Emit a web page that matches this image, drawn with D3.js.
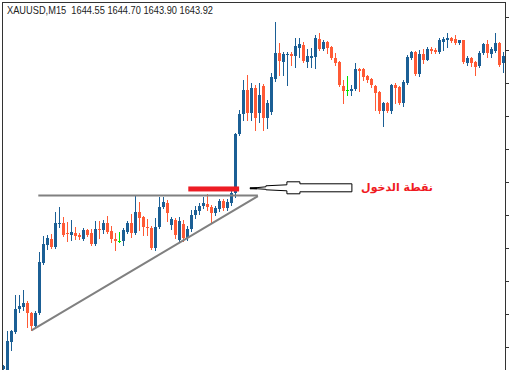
<!DOCTYPE html>
<html>
<head>
<meta charset="utf-8">
<script src="https://cdn.jsdelivr.net/npm/d3@7"></script>
<style>
  html, body { margin: 0; padding: 0; background: #fff; }
  svg { display: block; }
</style>
</head>
<body>
<svg id="chart" width="509" height="370"></svg>
<script>
// XAUUSD M15 candles, left to right
var opens = [1634.32,1634.23,1635.14,1635.44,1636.14,1636.20,1636.32,1636.02,1635.62,1636.02,
  1637.53,1638.08,1638.26,1638.02,1638.71,1638.74,1638.44,1638.38,1638.44,1638.38,
  1638.26,1638.53,1638.44,1638.11,1638.56,1638.53,1638.74,1638.50,1638.26,1638.20,
  1638.20,1638.47,1638.74,1638.44,1639.08,1638.92,1638.62,1638.59,1637.98,1638.62,
  1639.23,1639.35,1638.68,1638.83,1638.23,1638.71,1638.29,1638.56,1638.98,1639.11,
  1639.26,1639.32,1639.23,1639.05,1639.17,1639.41,1639.20,1639.35,1639.65,1641.44,
  1642.05,1642.77,1642.08,1642.83,1642.08,1642.89,1641.92,1642.11,1643.11,1643.89,
  1643.62,1643.83,1643.86,1643.80,1644.05,1644.14,1643.62,1643.74,1643.77,1644.32,
  1644.02,1644.23,1644.08,1643.74,1643.62,1642.89,1642.77,1642.74,1642.80,1643.41,
  1643.41,1643.20,1643.11,1642.89,1642.71,1642.14,1642.38,1642.14,1642.92,1642.86,
  1642.38,1642.98,1643.74,1643.92,1643.26,1643.86,1643.68,1644.02,1643.98,1643.92,
  1644.23,1644.29,1644.35,1644.32,1644.20,1644.29,1643.59,1643.74,1643.62,1643.50,
  1643.89,1644.17,1643.86,1643.95,1644.20,1643.59];
var highs = [1634.44,1635.47,1635.50,1636.56,1636.56,1636.71,1636.38,1636.05,1636.08,1637.86,
  1638.35,1638.38,1638.41,1639.08,1639.23,1638.92,1638.77,1638.83,1638.62,1638.44,
  1638.59,1638.56,1638.56,1638.80,1638.80,1638.83,1638.95,1638.65,1638.44,1638.47,
  1638.59,1638.80,1639.02,1639.59,1639.38,1638.95,1638.86,1638.65,1638.89,1639.53,
  1639.53,1639.44,1638.92,1638.89,1638.92,1638.83,1638.65,1639.14,1639.26,1639.35,
  1639.53,1639.62,1639.29,1639.26,1639.47,1639.47,1639.47,1639.74,1641.47,1642.17,
  1643.08,1643.23,1642.98,1642.92,1642.98,1642.95,1642.47,1643.29,1644.83,1644.20,
  1643.92,1643.92,1643.92,1644.35,1644.35,1644.23,1644.02,1644.05,1644.44,1644.50,
  1644.29,1644.26,1644.11,1643.89,1643.65,1643.08,1643.20,1642.92,1643.59,1643.44,
  1643.44,1643.23,1643.14,1642.92,1642.74,1642.41,1642.41,1642.95,1642.98,1642.89,
  1643.08,1643.83,1643.95,1643.95,1643.98,1644.02,1644.08,1644.08,1644.05,1644.35,
  1644.38,1644.50,1644.38,1644.44,1644.29,1644.29,1643.80,1643.77,1643.65,1643.95,
  1644.20,1644.29,1644.08,1644.50,1644.23,1643.92];
var lows = [1634.29,1634.23,1634.92,1635.41,1636.05,1636.11,1635.59,1635.50,1635.59,1635.98,
  1637.50,1637.95,1637.98,1637.98,1638.62,1638.35,1638.20,1638.23,1638.26,1638.26,
  1638.23,1638.35,1638.08,1638.08,1638.29,1638.44,1638.44,1638.17,1637.92,1638.17,
  1638.08,1638.44,1638.32,1638.41,1638.53,1638.38,1638.38,1637.95,1637.92,1638.59,
  1639.20,1638.80,1638.56,1638.29,1638.17,1638.20,1638.23,1638.50,1638.89,1639.02,
  1639.20,1639.14,1638.74,1638.98,1639.11,1639.14,1639.14,1639.29,1639.53,1641.41,
  1641.86,1641.86,1641.86,1641.56,1641.80,1641.56,1641.62,1642.05,1643.05,1643.23,
  1643.23,1642.92,1643.53,1643.47,1643.77,1643.62,1643.47,1643.47,1643.44,1643.98,
  1643.98,1643.89,1643.71,1643.53,1642.89,1642.38,1642.62,1642.62,1642.77,1642.74,
  1643.08,1643.02,1642.86,1642.17,1642.08,1641.68,1642.11,1642.08,1642.38,1642.35,
  1642.29,1642.95,1643.71,1643.23,1643.20,1643.59,1643.68,1643.89,1643.89,1643.89,
  1643.98,1644.08,1644.23,1644.17,1644.17,1643.59,1643.53,1643.50,1643.23,1643.47,
  1643.86,1643.77,1643.77,1643.92,1643.50,1643.32];
var closes = [1634.41,1635.17,1635.47,1636.14,1636.23,1636.32,1636.02,1635.62,1636.02,1637.56,
  1638.11,1638.29,1638.02,1638.74,1638.74,1638.38,1638.41,1638.47,1638.35,1638.32,
  1638.53,1638.38,1638.11,1638.56,1638.53,1638.74,1638.47,1638.26,1638.20,1638.20,
  1638.53,1638.74,1638.44,1639.08,1638.89,1638.62,1638.59,1637.98,1638.62,1639.23,
  1639.38,1639.05,1638.86,1638.38,1638.80,1638.29,1638.56,1638.98,1639.14,1639.26,
  1639.35,1639.23,1639.05,1639.20,1639.41,1639.20,1639.38,1639.65,1641.44,1642.05,
  1642.77,1642.08,1642.83,1641.92,1642.62,1641.92,1642.38,1643.17,1643.89,1643.65,
  1643.86,1643.86,1643.80,1644.11,1644.17,1643.65,1643.80,1643.80,1644.35,1644.02,
  1644.23,1644.05,1643.74,1643.59,1642.92,1642.74,1642.77,1642.80,1643.41,1643.35,
  1643.17,1643.08,1642.92,1642.68,1642.14,1642.38,1642.14,1642.92,1642.83,1642.38,
  1643.02,1643.77,1643.92,1643.26,1643.86,1643.68,1644.02,1643.95,1643.92,1644.29,
  1644.32,1644.35,1644.26,1644.20,1644.29,1643.62,1643.74,1643.59,1643.47,1643.89,
  1644.17,1643.89,1644.02,1644.20,1643.53,1643.80];

var priceTicks = [1645, 1644, 1643, 1642, 1641, 1640, 1639, 1638, 1637, 1636, 1635];

var headerText = "XAUUSD,M15  1644.55 1644.70 1643.90 1643.92";
var entryLabel = "نقطة الدخول";

// drawn objects: [candle index, price]
var resistance = [[8.7, 1639.58], [63.6, 1639.58]];
var trendLine = [[7.0, 1635.50], [63.6, 1639.56]];
var entryBar = [[46.2, 1639.78], [58.9, 1639.78]];
var arrowTip = [61.6, 1639.80];

var width = 509, height = 370;
var svg = d3.select('#chart');

var x = d3.scaleLinear().domain([0, opens.length - 1]).range([3.5, 3.5 + 4 * (opens.length - 1)]);
var y = d3.scaleLinear().domain([1634.3, 1645.5]).range([height, 0]);

var upColor = '#1b5f95', downColor = '#ff5a35', dojiColor = '#00e000';

svg.append('clipPath').attr('id', 'plot')
    .append('rect').attr('x', 3).attr('y', 3).attr('width', 502).attr('height', height - 3);

var candles = svg.append('g').attr('clip-path', 'url(#plot)');

var data = opens.map(function (o, i) {
    return {i: i, o: o, h: highs[i], l: lows[i], c: closes[i]};
});
function col(d) { return d.c > d.o ? upColor : (d.c < d.o ? downColor : dojiColor); }

candles.selectAll('line.wick')
    .data(data)
    .enter()
    .append('line')
    .attr('class', 'wick')
    .attr('x1', function (d) { return x(d.i); })
    .attr('x2', function (d) { return x(d.i); })
    .attr('y1', function (d) { return Math.round(y(d.h)); })
    .attr('y2', function (d) { return Math.round(y(d.l)) + 1; })
    .attr('stroke', col)
    .attr('stroke-width', 1);

candles.selectAll('rect.body')
    .data(data)
    .enter()
    .append('rect')
    .attr('class', 'body')
    .attr('x', function (d) { return x(d.i) - 1.5; })
    .attr('width', 3)
    .attr('y', function (d) { return Math.round(y(Math.max(d.o, d.c))); })
    .attr('height', function (d) { return Math.max(1, Math.round(y(Math.min(d.o, d.c))) - Math.round(y(Math.max(d.o, d.c)))); })
    .attr('fill', col);

// triangle lines
var line = d3.line().x(function (d) { return x(d[0]); }).y(function (d) { return y(d[1]); });
svg.append('path').attr('d', line(resistance)).attr('stroke', '#808080').attr('stroke-width', 2).attr('fill', 'none');
svg.append('path').attr('d', line(trendLine)).attr('stroke', '#808080').attr('stroke-width', 2).attr('fill', 'none');

// entry level
svg.append('rect')
    .attr('x', x(entryBar[0][0]))
    .attr('width', x(entryBar[1][0]) - x(entryBar[0][0]))
    .attr('y', y(entryBar[0][1]) - 2.5)
    .attr('height', 5)
    .attr('fill', '#ed1c24');

// hollow arrow pointing at the entry
var tx = x(arrowTip[0]), ty = y(arrowTip[1]);
var arrowShape = [[0, 0], [16, -1.5], [16, -2.5], [37, -3.5], [37, -6.5], [50, -6.5], [50, -4.5], [102, -4.5],
    [102, 3.5], [50, 3.5], [50, 5.5], [37, 5.5], [37, 2.5], [16, 1.5], [16, 1]];
svg.append('path')
    .attr('d', d3.line()(arrowShape.map(function (p) { return [tx + p[0], ty + p[1]]; })) + 'Z')
    .attr('fill', '#fff')
    .attr('stroke', '#000')
    .attr('stroke-width', 1);
svg.append('line')
    .attr('x1', tx).attr('x2', tx + 7).attr('y1', ty).attr('y2', ty)
    .attr('stroke', '#000').attr('stroke-width', 2);

svg.append('text')
    .attr('x', 433)
    .attr('y', ty + 3)
    .attr('text-anchor', 'start')
    .attr('direction', 'rtl')
    .attr('font-family', 'DejaVu Sans')
    .attr('font-weight', 'bold')
    .attr('font-size', 11)
    .attr('fill', '#f01a22')
    .text(entryLabel);

// frame and price scale
svg.append('line').attr('x1', 2.5).attr('x2', 2.5).attr('y1', 2).attr('y2', height).attr('stroke', '#333');
svg.append('line').attr('x1', 2).attr('x2', 506).attr('y1', 2.5).attr('y2', 2.5).attr('stroke', '#333');
svg.append('line').attr('x1', 505.5).attr('x2', 505.5).attr('y1', 2).attr('y2', height).attr('stroke', '#333');

svg.selectAll('line.tick')
    .data(priceTicks)
    .enter()
    .append('line')
    .attr('class', 'tick')
    .attr('x1', 505).attr('x2', 509)
    .attr('y1', function (d) { return Math.round(y(d)) + 0.5; })
    .attr('y2', function (d) { return Math.round(y(d)) + 0.5; })
    .attr('stroke', '#333');

svg.append('text')
    .attr('x', 7)
    .attr('y', 14)
    .style('white-space', 'pre')
    .attr('font-family', 'Liberation Sans')
    .attr('font-size', 10.5)
    .attr('textLength', 206)
    .attr('lengthAdjust', 'spacingAndGlyphs')
    .attr('fill', '#222')
    .text(headerText);
</script>
</body>
</html>
